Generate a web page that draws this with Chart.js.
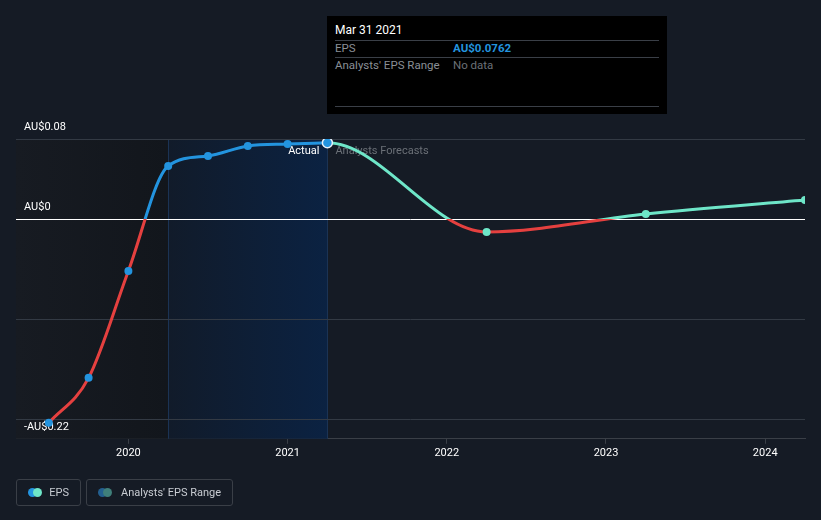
<!DOCTYPE html>
<html>
<head>
<meta charset="utf-8">
<script src="https://cdn.jsdelivr.net/npm/chart.js@4/dist/chart.umd.min.js"></script>
<style>
  html, body { margin: 0; padding: 0; background: #151b25; }
  body { width: 821px; height: 520px; position: relative; overflow: hidden; font-family: Roboto, "Noto Sans", sans-serif; }
  #wrap { position: absolute; left: 0; top: 0; width: 821px; height: 520px; }
  #tip { position: absolute; left: 327px; top: 16px; width: 340px; height: 98px; background: #000; box-sizing: border-box; padding: 0 8px; color: #fff; font-size: 12px; }
  #tip .title { position: absolute; left: 8px; top: 7px; font-size: 12px; color: #fff; }
  #tip .hr { position: absolute; left: 8px; right: 8px; height: 1px; background: #3a3f47; }
  #tip .lab { position: absolute; left: 8px; color: #8a8f96; font-size: 11.5px; }
  #tip .val { position: absolute; left: 126px; font-size: 11.5px; }
  #legend { position: absolute; left: 16px; top: 479px; height: 27px; display: flex; gap: 5px; }
  .lg { border: 1px solid #3a3f47; border-radius: 3px; display: flex; align-items: center; padding: 0 11px 0 11px; color: #c8ccd2; font-size: 11px; box-sizing: border-box; height: 27px; }
  .dots { position: relative; width: 14px; height: 9px; margin-right: 9px; }
  .dots span { position: absolute; top: 0; width: 9px; height: 9px; border-radius: 50%; }
</style>
</head>
<body>
<div id="wrap"><canvas id="c" width="821" height="520"></canvas></div>
<div id="tip">
  <div class="title">Mar 31 2021</div>
  <div class="hr" style="top:24px"></div>
  <div class="lab" style="top:25px">EPS</div>
  <div class="val" style="top:25px;color:#2394df;font-weight:bold">AU$0.0762</div>
  <div class="hr" style="top:41px"></div>
  <div class="lab" style="top:42px">Analysts' EPS Range</div>
  <div class="val" style="top:42px;color:#6b7077">No data</div>
  <div class="hr" style="top:90px"></div>
</div>
<div id="legend">
  <div class="lg" style="width:65px"><div class="dots"><span style="left:0;background:#2394df"></span><span style="left:5px;background:#6ee6c8"></span></div>EPS</div>
  <div class="lg" style="width:147px"><div class="dots"><span style="left:0;background:#235f8f"></span><span style="left:5px;background:#3f7f7a"></span></div>Analysts' EPS Range</div>
</div>
<script>
// ---- data ----
const actualYears  = [2019.5, 2019.75, 2020.0, 2020.25, 2020.5, 2020.75, 2021.0, 2021.25];
const actualEPS    = [-0.204, -0.159, -0.052, 0.053, 0.063, 0.073, 0.075, 0.0762];
const forecastYears = [2022.25, 2023.25, 2024.25];
const forecastEPS   = [-0.013, 0.005, 0.019];
const yTickValues = [-0.22, -0.2, -0.1, 0, 0.08];
const yTickLabels = { "-0.22": "-AU$0.22", "0": "AU$0", "0.08": "AU$0.08" };
const xTickYears = [2020, 2021, 2022, 2023, 2024];
const pastYearStart = 2020.25;
const pastYearEnd = 2021.25;

const toXY = (xs, ys) => xs.map((x, i) => ({ x: x, y: ys[i] }));
// forecast curve continues from the last two actual points (first segment hidden)
const nA = actualYears.length;
const fcXs = [actualYears[nA - 2], actualYears[nA - 1], ...forecastYears];
const fcYs = [actualEPS[nA - 2], actualEPS[nA - 1], ...forecastEPS];

function signGradient(ctx, above, below) {
  const chart = ctx.chart;
  const area = chart.chartArea;
  if (!area) return above;
  const y0 = chart.scales.y.getPixelForValue(0);
  const g = chart.ctx.createLinearGradient(0, area.top, 0, area.bottom);
  const t = Math.min(1, Math.max(0, (y0 - area.top) / (area.bottom - area.top)));
  g.addColorStop(0, above);
  g.addColorStop(t, above);
  g.addColorStop(t, below);
  g.addColorStop(1, below);
  return g;
}

const bgPlugin = {
  id: 'bgPlugin',
  beforeDatasetsDraw(chart) {
    const { ctx, chartArea: a, scales: { x, y } } = chart;
    const xs = x.getPixelForValue(pastYearStart);
    const xe = x.getPixelForValue(pastYearEnd);
    ctx.save();
    let g = ctx.createLinearGradient(a.left, 0, xs, 0);
    g.addColorStop(0, '#171b22');
    g.addColorStop(1, '#12161c');
    ctx.fillStyle = g;
    ctx.fillRect(a.left, a.top, xs - a.left, a.bottom - a.top);
    g = ctx.createLinearGradient(xs, 0, xe, 0);
    g.addColorStop(0, '#111b2a');
    g.addColorStop(1, '#0b2242');
    ctx.fillStyle = g;
    ctx.fillRect(xs, a.top, xe - xs, a.bottom - a.top);
    ctx.strokeStyle = '#1b3354';
    ctx.lineWidth = 1;
    ctx.beginPath();
    ctx.moveTo(Math.round(xs) + 0.5, a.top); ctx.lineTo(Math.round(xs) + 0.5, a.bottom);
    ctx.moveTo(Math.round(xe) + 0.5, a.top); ctx.lineTo(Math.round(xe) + 0.5, a.bottom);
    ctx.stroke();
    // grid lines
    yTickValues.forEach(v => {
      if (v === -0.22) return;
      const py = Math.round(y.getPixelForValue(v)) + 0.5;
      ctx.strokeStyle = v === 0 ? '#ffffff' : '#333a44';
      ctx.beginPath(); ctx.moveTo(a.left, py); ctx.lineTo(a.right, py); ctx.stroke();
    });
    // y labels
    ctx.fillStyle = '#ffffff';
    ctx.font = '11px Roboto, "Noto Sans", sans-serif';
    ctx.textBaseline = 'middle';
    ctx.textAlign = 'left';
    yTickValues.forEach(v => {
      const lab = yTickLabels[String(v)];
      if (!lab) return;
      ctx.fillText(lab, a.left + 8, y.getPixelForValue(v) - 12);
    });
    // Actual / Analysts Forecasts labels
    const py = y.getPixelForValue(0.08) + 12;
    ctx.textAlign = 'right';
    ctx.fillStyle = '#ffffff';
    ctx.fillText('Actual', xe - 8, py);
    ctx.textAlign = 'left';
    ctx.fillStyle = '#6b7077';
    ctx.fillText('Analysts Forecasts', xe + 8, py);
    ctx.restore();
  }
};

new Chart(document.getElementById('c'), {
  type: 'line',
  data: {
    datasets: [
      {
        label: 'EPS',
        data: toXY(actualYears, actualEPS),
        borderColor: ctx => signGradient(ctx, '#2394df', '#e5403f'),
        borderWidth: 3,
        cubicInterpolationMode: 'monotone',
        pointRadius: actualYears.map((_, i) => i === nA - 1 ? 5 : 4),
        pointBackgroundColor: '#2394df',
        pointBorderColor: actualYears.map((_, i) => i === nA - 1 ? '#e8f0f8' : '#2394df'),
        pointBorderWidth: actualYears.map((_, i) => i === nA - 1 ? 1.5 : 0),
        order: 1
      },
      {
        label: 'Forecast',
        data: toXY(fcXs, fcYs),
        borderColor: ctx => signGradient(ctx, '#6ee6c8', '#e5403f'),
        segment: { borderColor: c => c.p0DataIndex === 0 ? 'rgba(0,0,0,0)' : undefined },
        borderWidth: 3,
        cubicInterpolationMode: 'monotone',
        pointRadius: fcXs.map((_, i) => i < 2 ? 0 : 4),
        pointBackgroundColor: '#6ee6c8',
        pointBorderWidth: 0,
        order: 2
      }
    ]
  },
  options: {
    responsive: false,
    animation: false,
    events: [],
    layout: { padding: { left: 16, right: 16, top: 139, bottom: 57 } },
    plugins: { legend: { display: false }, tooltip: { enabled: false } },
    scales: {
      x: {
        type: 'linear',
        min: 2019.294,
        max: 2024.25,
        afterBuildTicks: s => { s.ticks = xTickYears.map(v => ({ value: v })); },
        grid: { drawOnChartArea: false, drawTicks: true, tickLength: 5, color: '#3a3f47' },
        border: { display: true, color: '#3a3f47' },
        ticks: { color: '#ffffff', font: { size: 11, family: 'Roboto' }, padding: 3, callback: v => String(v), maxRotation: 0 }
      },
      y: {
        min: -0.22,
        max: 0.08,
        display: true,
        afterFit: s => { s.width = 0; },
        grid: { display: false },
        border: { display: false },
        ticks: { display: false }
      }
    }
  },
  plugins: [bgPlugin]
});
</script>
</body>
</html>
